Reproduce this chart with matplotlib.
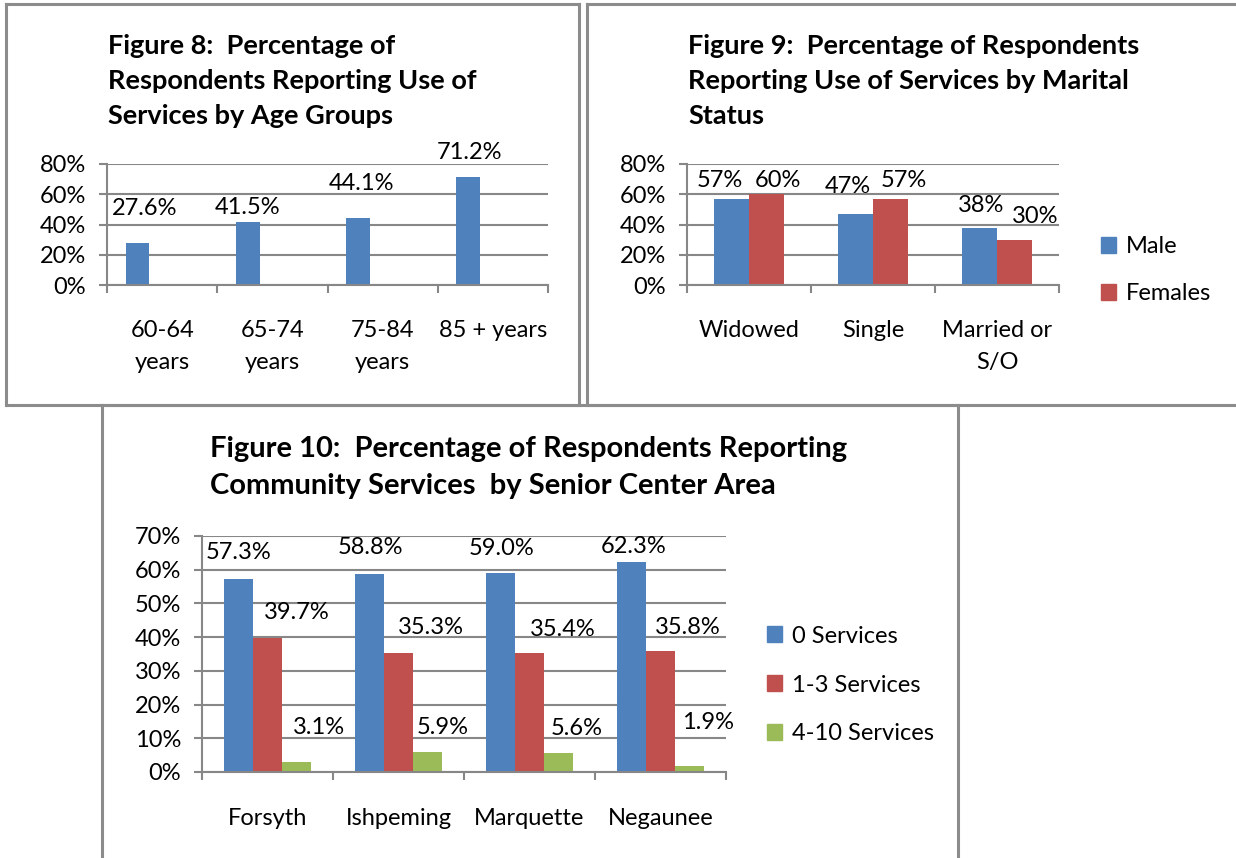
import matplotlib
matplotlib.use('Agg')
import matplotlib.pyplot as plt
from matplotlib.lines import Line2D
from matplotlib.patches import Patch
import numpy as np

# Figure 8 data
age_groups = ['60-64\nyears', '65-74\nyears', '75-84\nyears', '85 + years']
age_pct = [27.6, 41.5, 44.1, 71.2]

# Figure 9 data
marital = ['Widowed', 'Single', 'Married or\nS/O']
male_pct = [57, 47, 38]
female_pct = [60, 57, 30]

# Figure 10 data
areas = ['Forsyth', 'Ishpeming', 'Marquette', 'Negaunee']
svc_0 = [57.3, 58.8, 59.0, 62.3]
svc_1_3 = [39.7, 35.3, 35.4, 35.8]
svc_4_10 = [3.1, 5.9, 5.6, 1.9]

BLUE = '#4F81BD'
RED = '#C0504D'
GREEN = '#9BBB59'
GRID = '#878787'
FONT = 'Lato'
FS = 17

W, H = 1236, 858
plt.rcParams['font.family'] = [FONT, 'DejaVu Sans']
fig = plt.figure(figsize=(W / 100, H / 100), dpi=100)


def px_axes(x0, y0, x1, y1):
    # pixel box (top-left origin) -> axes
    return fig.add_axes([x0 / W, 1 - y1 / H, (x1 - x0) / W, (y1 - y0) / H])


def fx(x):
    return x / W


def fy(y):
    return 1 - y / H


def style_axes(ax, ymax, step, ncat):
    ax.set_xlim(0, ncat)
    ax.set_ylim(0, ymax)
    ax.set_yticks(np.arange(0, ymax + 1, step))
    ax.set_yticklabels([f'{int(v)}%' for v in np.arange(0, ymax + 1, step)])
    ax.yaxis.grid(True, color=GRID, linewidth=1.5)
    ax.set_axisbelow(True)
    for s in ['top', 'right']:
        ax.spines[s].set_visible(False)
    for s in ['left', 'bottom']:
        ax.spines[s].set_color(GRID)
        ax.spines[s].set_linewidth(1.5)
    ax.set_xticks(np.arange(0, ncat + 1))
    ax.set_xticklabels([])
    ax.set_xticks(np.arange(ncat) + 0.5, minor=True)
    ax.tick_params(axis='x', which='major', length=6, width=1.5, color=GRID, direction='out')
    ax.tick_params(axis='x', which='minor', length=0, pad=25, labelsize=FS)
    ax.tick_params(axis='y', length=6, width=1.5, color=GRID, pad=9, labelsize=FS)
    ax.set_facecolor('none')


def add_labels(ax, xs, vals, fmt, dx_px, dy_px):
    for x, v, dx, dy in zip(xs, vals, dx_px, dy_px):
        ax.annotate(fmt.format(v), (x, v), xytext=(dx * 0.72, dy * 0.72),
                    textcoords='offset points', ha='center', va='center', fontsize=FS)


def frame(x0, y0, x1, y1):
    for xs, ys in [((x0, x1), (y0, y0)), ((x0, x1), (y1, y1)),
                   ((x0, x0), (y0, y1)), ((x1, x1), (y0, y1))]:
        fig.add_artist(Line2D([fx(v) for v in xs], [fy(v) for v in ys],
                              color='#8C8C8C', linewidth=2.2))


# panel frames
frame(6, 4, 579, 405)
frame(587, 4, 1245, 405)
frame(102, 405, 958, 870)

# ---------- Figure 8 ----------
ax1 = px_axes(107, 164, 548, 285)
style_axes(ax1, 80, 20, 4)
x1 = np.arange(len(age_groups)) + 0.277
ax1.bar(x1, age_pct, width=0.214, color=BLUE)
ax1.set_xticklabels(age_groups, minor=True, linespacing=1.65)
add_labels(ax1, x1, age_pct, '{:.1f}%', [7, 0, 3, 1], [35, 15, 35, 25])
fig.text(fx(108), fy(81), 'Figure 8:  Percentage of\nRespondents Reporting Use of\nServices by Age Groups',
         fontsize=19.5, fontweight='bold', ha='left', va='center', linespacing=1.55)

# ---------- Figure 9 ----------
ax2 = px_axes(687, 164, 1059, 285)
style_axes(ax2, 80, 20, 3)
x2 = np.arange(len(marital)) + 0.5
bw = 0.286
ax2.bar(x2 - bw / 2, male_pct, width=bw, color=BLUE, label='Male')
ax2.bar(x2 + bw / 2, female_pct, width=bw, color=RED, label='Females')
ax2.set_xticklabels(marital, minor=True, linespacing=1.65)
add_labels(ax2, x2 - bw / 2, male_pct, '{:d}%', [-11, -7, 2], [18, 27, 22])
add_labels(ax2, x2 + bw / 2, female_pct, '{:d}%', [11, 13, 20], [14, 18, 23])
fig.text(fx(688), fy(81), 'Figure 9:  Percentage of Respondents\nReporting Use of Services by Marital\nStatus',
         fontsize=19.5, fontweight='bold', ha='left', va='center', linespacing=1.55)
fig.legend(handles=[Patch(color=BLUE, label='Male'), Patch(color=RED, label='Females')],
           loc='center left', bbox_to_anchor=(fx(1101), fy(270)), frameon=False,
           fontsize=FS, handlelength=0.65, handleheight=0.65, handletextpad=0.4,
           labelspacing=1.1, borderpad=0, borderaxespad=0)

# ---------- Figure 10 ----------
ax3 = px_axes(202, 536, 726, 772)
style_axes(ax3, 70, 10, 4)
x3 = np.arange(len(areas)) + 0.5
bw3 = 0.222
ax3.bar(x3 - bw3, svc_0, width=bw3, color=BLUE)
ax3.bar(x3, svc_1_3, width=bw3, color=RED)
ax3.bar(x3 + bw3, svc_4_10, width=bw3, color=GREEN)
ax3.set_xticklabels(areas, minor=True)
ax3.tick_params(axis='x', which='minor', pad=26)
add_labels(ax3, x3 - bw3, svc_0, '{:.1f}%', [0, 1, 1, 2], [26, 26, 25, 15])
add_labels(ax3, x3, svc_1_3, '{:.1f}%', [29, 32, 33, 27], [26, 25, 23, 24])
add_labels(ax3, x3 + bw3, svc_4_10, '{:.1f}%', [22, 15, 18, 18], [34, 25, 25, 43])
fig.text(fx(210), fy(467.5), 'Figure 10:  Percentage of Respondents Reporting\nCommunity Services  by Senior Center Area',
         fontsize=21, fontweight='bold', ha='left', va='center', linespacing=1.5)
fig.legend(handles=[Patch(color=BLUE, label='0 Services'), Patch(color=RED, label='1-3 Services'),
                    Patch(color=GREEN, label='4-10 Services')],
           loc='center left', bbox_to_anchor=(fx(767), fy(685)), frameon=False,
           fontsize=FS, handlelength=0.65, handleheight=0.65, handletextpad=0.4,
           labelspacing=1.18, borderpad=0, borderaxespad=0)

fig.savefig('out.png', dpi=100)
